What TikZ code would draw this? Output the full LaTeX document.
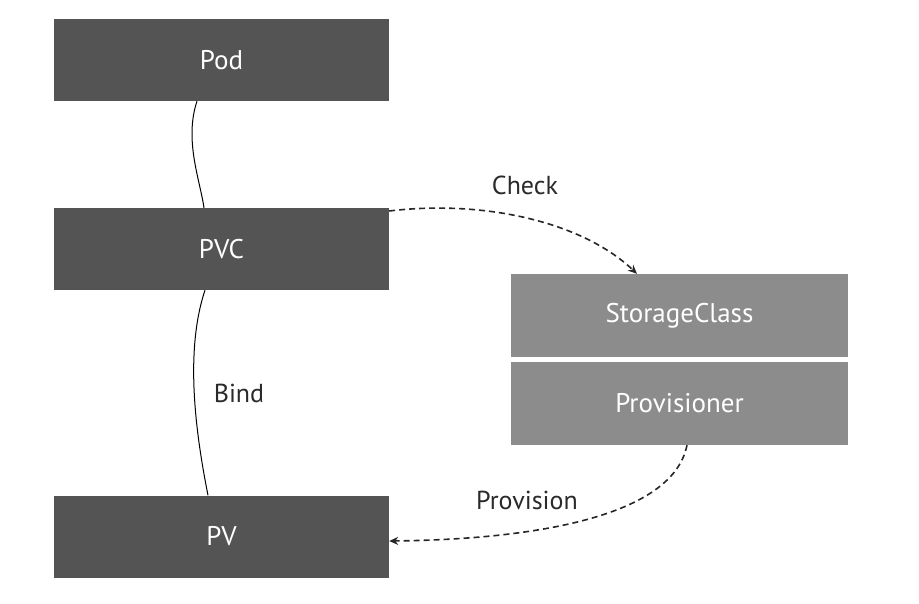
\documentclass[tikz,border=0pt]{standalone}
\usepackage{fontspec}
\setmainfont{PT Sans}
\usetikzlibrary{arrows.meta}
\definecolor{darkbox}{HTML}{545454}
\definecolor{lightbox}{HTML}{8C8C8C}
\definecolor{txt}{HTML}{2A2A2A}
\tikzset{
  darkbox/.style={fill=darkbox, draw=none, minimum width=335pt, minimum height=82pt, inner sep=0pt, text=white, font=\fontsize{27}{32}\selectfont},
  lightbox/.style={fill=lightbox, draw=none, minimum width=337pt, minimum height=83pt, inner sep=0pt, text=white, font=\fontsize{27}{32}\selectfont},
  lbl/.style={text=txt, font=\fontsize{26}{31}\selectfont},
  link/.style={draw=black, line width=1pt},
  dlink/.style={draw=black!85, line width=1.6pt, dash pattern=on 6pt off 4pt, -{Stealth[length=9pt,width=8pt]}}
}
\begin{document}
\begin{tikzpicture}[x=1pt,y=-1pt]
\useasboundingbox (0,0) rectangle (919,603);
\node[darkbox] (pod) at (221.5,60) {Pod};
\node[darkbox] (pvc) at (221.5,249) {PVC};
\node[darkbox] (pv) at (221.5,536.5) {PV};
\node[lightbox] (sc) at (679.5,315.5) {StorageClass};
\node[lightbox] (prov) at (679.5,403.5) {Provisioner};
\draw[link] (pod.south -| 197,0) .. controls (184,140) and (200,180) .. (pvc.north -| 204,0);
\draw[link] (pvc.south -| 205,0) .. controls (185,350) and (195,430) .. (pv.north -| 208,0);
\draw[dlink] (pvc.north east |- 0,211) .. controls (480,200) and (580,220) .. (sc.north -| 637,0);
\draw[dlink] (prov.south -| 687,0) .. controls (670,530) and (480,540) .. (pv.east |- 0,541);
\node[lbl] (bind) at (239,393) {Bind};
\node[lbl] (check) at (525,185) {Check};
\node[lbl] (provl) at (527,500) {Provision};
\end{tikzpicture}
\end{document}
